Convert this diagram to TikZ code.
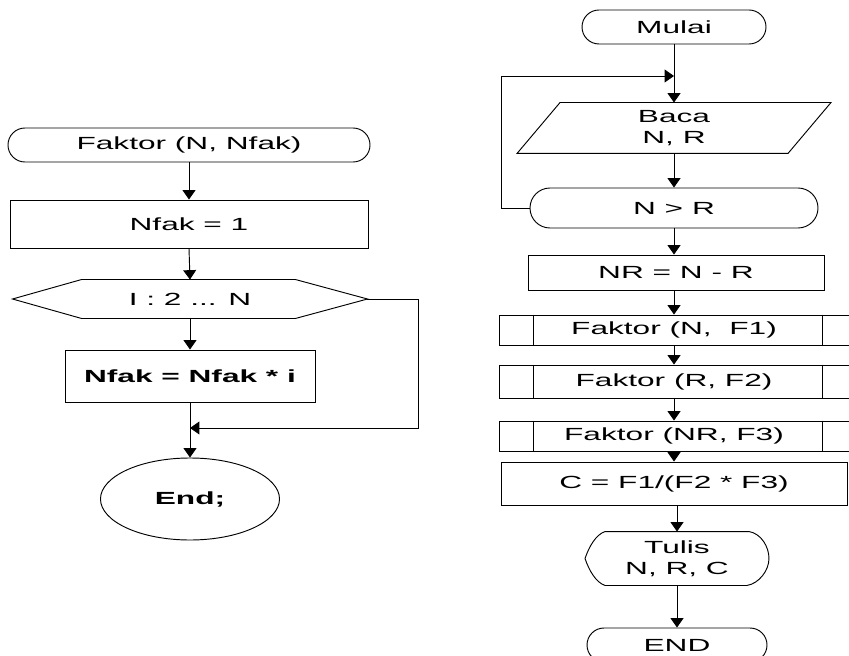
\documentclass[tikz,border=0pt]{standalone}
\usepackage{fontspec}
\setmainfont{Liberation Sans}[FakeStretch=1.8]
\usetikzlibrary{arrows.meta, positioning, shapes.geometric, shapes.misc, calc}

\begin{document}
\begin{tikzpicture}[x=0.03cm, y=-0.03cm, line width=0.8pt,
    >={Triangle[width=11pt,length=8pt]},
    every node/.style={font=\fontsize{15}{18}\selectfont, inner sep=0pt},
    box/.style={draw, rectangle},
    term/.style={draw, rounded rectangle},
    bare/.style={rectangle, align=center}]

\useasboundingbox (0,0) rectangle (849,656);

% Left chart: subroutine Faktor
\node[term, minimum width=10.86cm, minimum height=1.02cm] (fak) at (189,145) {Faktor (N, Nfak)};
\node[box, minimum width=10.74cm, minimum height=1.44cm] (nf1) at (189,224) {Nfak = 1};
\node[bare, minimum width=10.62cm, minimum height=1.14cm] (loop) at (190,299) {I : 2 ... N};
\draw (loop.west) -- ($(loop.north west)+(69,0)$) -- ($(loop.north east)+(-72,0)$)
    -- (loop.east) -- ($(loop.south east)+(-72,0)$) -- ($(loop.south west)+(69,0)$) -- cycle;
\node[box, minimum width=7.5cm, minimum height=1.56cm] (nfi) at (190,376) {\bfseries Nfak = Nfak * i};
\node[draw, ellipse, minimum width=5.37cm, minimum height=2.46cm] (endl) at (190,499) {\bfseries End;};
\coordinate (jn) at (190,428);

\draw[->] (fak.south) -- (nf1.north);
\draw[->] (nf1.south) -- (loop.north);
\draw[->] (loop.south) -- (nfi.north);
\draw[->] (nfi.south) -- (endl.north);
\draw[->] (loop.east) -- ++(51,0) |- (jn);

% Right chart: main program
\node[term, minimum width=5.52cm, minimum height=1.02cm] (mulai) at (674,27) {Mulai};
\node[bare, minimum width=8.1cm, minimum height=1.5cm] (baca) at (674,128) {Baca\\N, R};
\draw ($(baca.north west)+(21.5,0)$) -- ($(baca.north east)+(21.5,0)$)
    -- ($(baca.south east)+(-21.5,0)$) -- ($(baca.south west)+(-21.5,0)$) -- cycle;
\node[term, minimum width=8.64cm, minimum height=1.2cm] (nr) at (674,208) {N > R};
\node[box, minimum width=8.88cm, minimum height=1.05cm] (sub) at (676,272.5) {NR = N - R};
\node[box, minimum width=10.5cm, minimum height=0.9cm] (f1) at (674,330) {Faktor (N, \ F1)};
\node[box, minimum width=10.5cm, minimum height=0.99cm] (f2) at (674,381.5) {Faktor (R, F2)};
\node[box, minimum width=10.5cm, minimum height=0.9cm] (f3) at (674,436) {Faktor (NR, F3)};
\foreach \f in {f1,f2,f3}{
  \draw ($(\f.north west)+(35,0)$) -- ($(\f.south west)+(35,0)$);
  \draw ($(\f.north east)+(-27,0)$) -- ($(\f.south east)+(-27,0)$);
}
\node[box, minimum width=10.38cm, minimum height=1.29cm] (cbox) at (674,483.5) {C = F1/(F2 * F3)};
\node[bare, minimum width=5.49cm, minimum height=1.59cm] (tulis) at (677,558.5) {Tulis\\N, R, C};
\draw ($(tulis.north west)+(20,0)$) -- ($(tulis.north east)+(-20,0)$)
    .. controls +(12,2) and +(0,-12) .. (tulis.east)
    .. controls +(0,12) and +(12,-2) .. ($(tulis.south east)+(-22,0)$)
    -- ($(tulis.south west)+(20,0)$)
    .. controls +(-9,-3) and +(4,12) .. (tulis.west)
    .. controls +(4,-12) and +(-9,3) .. cycle;
\node[term, minimum width=5.4cm, minimum height=1.02cm] (ende) at (677,645) {END};
\coordinate (fb) at (674,76);

\draw[->] (mulai.south) -- (baca.north);
\draw[->] (nr.west) -- ++(-28,0) |- (fb);
\draw[->] (baca.south) -- (nr.north);
\draw[->] (nr.south) -- (nr.south |- sub.north);
\draw[->] (nr.south |- sub.south) -- (f1.north);
\draw[->] (f1.south) -- (f2.north);
\draw[->] (f2.south) -- (f3.north);
\draw[->] (f3.south) -- (cbox.north);
\draw[->] (cbox.south -| tulis.north) -- (tulis.north);
\draw[->] (tulis.south) -- (ende.north);

\end{tikzpicture}
\end{document}
